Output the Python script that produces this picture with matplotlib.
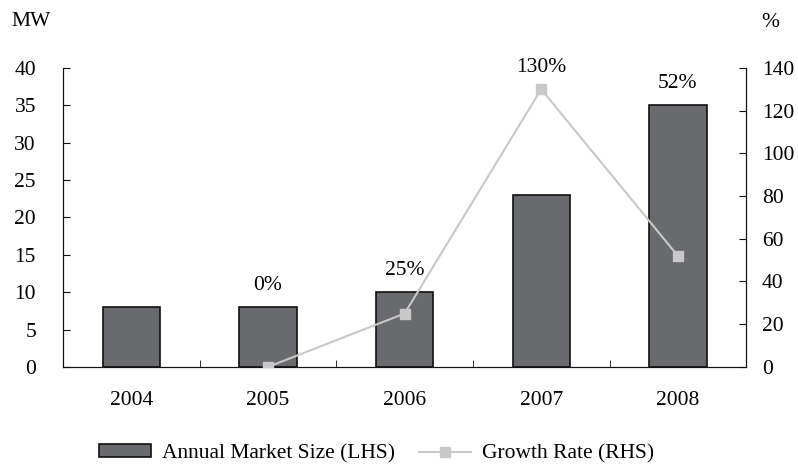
import numpy as np
import matplotlib.pyplot as plt

plt.rcParams['font.family'] = ['Liberation Serif', 'DejaVu Serif']
plt.rcParams['font.size'] = 15.5

years = ['2004', '2005', '2006', '2007', '2008']
market_mw = [8, 8, 10, 23, 35]
growth_years = ['2005', '2006', '2007', '2008']
growth_pct = [0, 25, 130, 52]
growth_labels = ['0%', '25%', '130%', '52%']

fig = plt.figure(figsize=(7.98, 4.68), dpi=100)
ax = fig.add_axes([0.079, 0.216, 0.856, 0.639])
ax2 = ax.twinx()

x = np.arange(len(years))
bars = ax.bar(x, market_mw, width=0.42, color='#696a6e', edgecolor='#111111',
              linewidth=1.2, label='Annual Market Size (LHS)', zorder=2)
gx = [years.index(y) for y in growth_years]
line, = ax2.plot(gx, growth_pct, color='#c8c8c8', marker='s', markersize=7,
                 linewidth=1.5, label='Growth Rate (RHS)', zorder=3)
ax.set_zorder(ax2.get_zorder() - 1)
ax2.patch.set_visible(False)

ax.set_xlim(-0.5, 4.5)
ax.set_ylim(0, 40)
ax2.set_ylim(0, 140)
ax.set_yticks(range(0, 41, 5))
ax2.set_yticks(range(0, 141, 20))
ax.set_xticks(x)
ax.set_xticklabels(years)
ax.set_xticks(np.arange(-0.5, 4.6, 1), minor=True)
ax.tick_params(axis='x', which='major', length=0, pad=17)
ax.tick_params(axis='x', which='minor', direction='in', length=5, color='#111111')
ax.tick_params(axis='y', direction='in', length=5, pad=19.5, color='#111111')
ax2.tick_params(axis='y', direction='in', length=5, pad=11.5, color='#111111')

for a in (ax, ax2):
    a.spines['top'].set_visible(False)
    for s in a.spines.values():
        s.set_color('#111111')

# etiquettes de croissance
for yr, v, lab in zip(growth_years, growth_pct, growth_labels):
    xi = years.index(yr)
    top = max(market_mw[xi] * 140 / 40, v)
    ax2.annotate(lab, (xi, top), xytext=(0, 9), textcoords='offset points',
                 ha='center', va='bottom')

fig.text(0.014, 0.953, 'MW', ha='left', va='center')
fig.text(0.965, 0.951, '%', ha='center', va='center')

fig.legend([bars, line], ['Annual Market Size (LHS)', 'Growth Rate (RHS)'],
           loc='center', bbox_to_anchor=(0.472, 0.03), ncol=2, frameon=False,
           handlelength=2.4, handleheight=0.55, handletextpad=0.5,
           columnspacing=1.15, borderpad=0, borderaxespad=0)

fig.savefig('out.png', dpi=100)
